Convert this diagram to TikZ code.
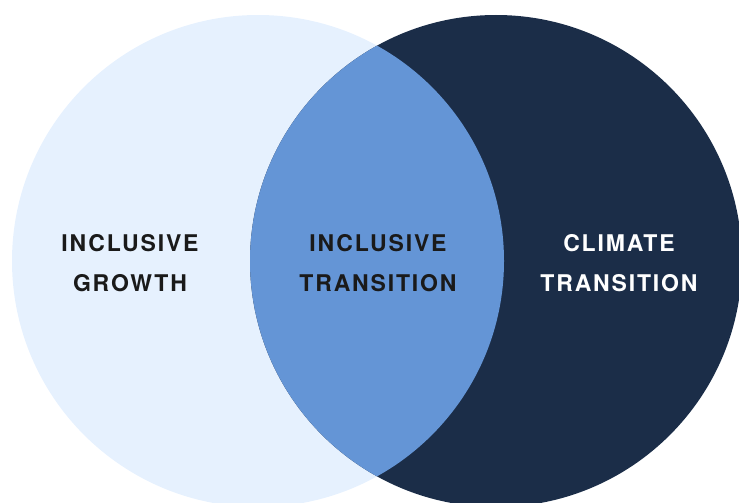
\documentclass[tikz,border=0pt]{standalone}
\usepackage{fontspec}
\setmainfont{TeX Gyre Heros}[LetterSpace=8]
\definecolor{lightc}{HTML}{E6F1FE}
\definecolor{midc}{HTML}{6495D6}
\definecolor{darkc}{HTML}{1B2D48}
\definecolor{textc}{HTML}{1A1A1A}
\begin{document}
\begin{tikzpicture}[x=1pt,y=-1pt,
  lbl/.style={align=center,font=\fontsize{23}{40}\selectfont\bfseries,inner sep=0pt,anchor=base}]
\useasboundingbox (0,0) rectangle (739,503);
\clip (0,0) rectangle (739,503);
\fill[lightc] (258,261) circle (246);
\fill[darkc] (496,261) circle (246);
\begin{scope}
\clip (258,261) circle (246);
\fill[midc] (496,261) circle (246);
\end{scope}
\node[lbl,text=textc] (a1) at (130,251) {INCLUSIVE};
\node[lbl,text=textc] (a2) at (130,291) {GROWTH};
\node[lbl,text=textc] (b1) at (378,251) {INCLUSIVE};
\node[lbl,text=textc] (b2) at (378,291) {TRANSITION};
\node[lbl,text=white] (c1) at (619,251) {CLIMATE};
\node[lbl,text=white] (c2) at (619,291) {TRANSITION};
\end{tikzpicture}
\end{document}
